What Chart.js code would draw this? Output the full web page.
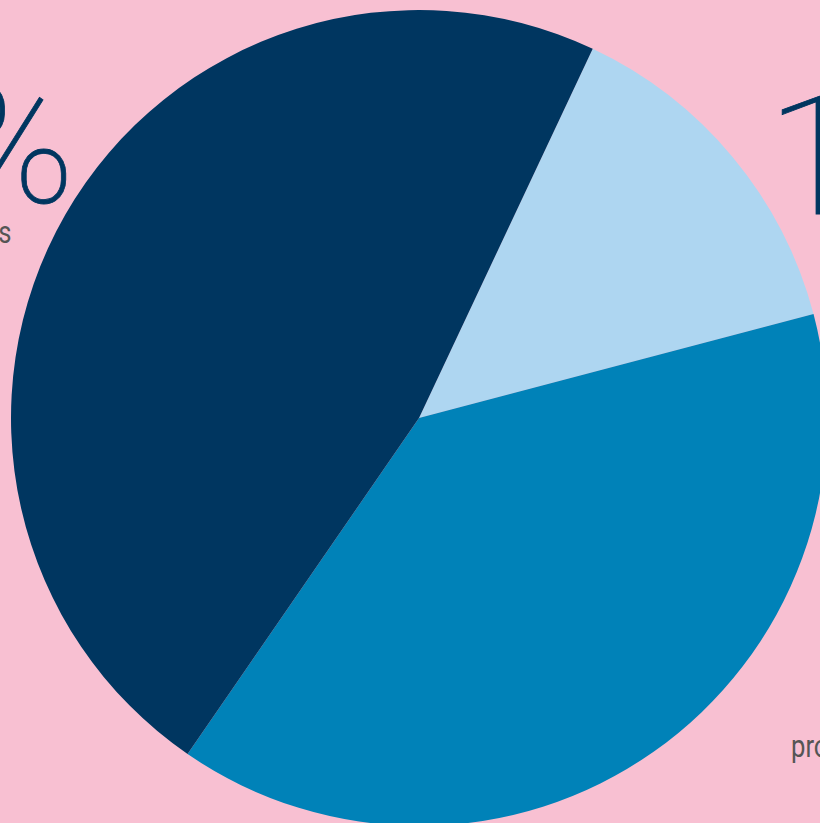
<!DOCTYPE html>
<html>
<head>
<meta charset="utf-8">
<script src="https://cdn.jsdelivr.net/npm/chart.js"></script>
<style>
  html, body { margin: 0; padding: 0; }
  body { width: 820px; height: 823px; overflow: hidden; background: #f8c0d2; position: relative; font-family: Roboto, sans-serif; }
  .big { position: absolute; font-weight: 100; font-size: 166px; line-height: 1; color: #003660; white-space: nowrap; -webkit-text-stroke: 0.8px #003660; }
  .small { position: absolute; font-size: 32px; line-height: 1; color: #555; white-space: nowrap; transform-origin: left top; }
  #wrap { position: absolute; left: 11px; top: 10px; width: 816px; height: 816px; }
</style>
</head>
<body>
  <div class="big" id="pctLeft" style="right: 745px; top: 63px;"></div>
  <div class="small" id="capLeft" style="right: 808px; top: 216px; transform: scaleX(0.8); transform-origin: right top;"></div>
  <div class="big" id="pctRight" style="left: 767px; top: 75px;"></div>
  <div class="small" id="capRight" style="left: 791px; top: 730px; transform: scaleX(0.8);"></div>
  <div id="wrap"><canvas id="pie" width="816" height="816"></canvas></div>
<script>
  // slices in drawing order, clockwise from about 25 degrees past 12 o'clock
  const categories = ['light', 'medium', 'dark'];
  const shares = [13.9, 38.7, 47.4];
  const colors = ['#aed6f1', '#0082b8', '#003660'];
  const bigLabels = ['47%', '14%'];
  const captions = ['s', 'pro'];

  document.getElementById('pctLeft').textContent = bigLabels[0];
  document.getElementById('pctRight').textContent = bigLabels[1];
  document.getElementById('capLeft').textContent = captions[0];
  document.getElementById('capRight').textContent = captions[1];

  const ctx = document.getElementById('pie').getContext('2d');
  new Chart(ctx, {
    type: 'pie',
    data: {
      labels: categories,
      datasets: [{
        data: shares,
        backgroundColor: colors,
        borderWidth: 0
      }]
    },
    options: {
      responsive: false,
      devicePixelRatio: 1,
      animation: false,
      rotation: 25.2,
      layout: { padding: 0 },
      plugins: {
        legend: { display: false },
        tooltip: { enabled: false }
      }
    }
  });
</script>
</body>
</html>
